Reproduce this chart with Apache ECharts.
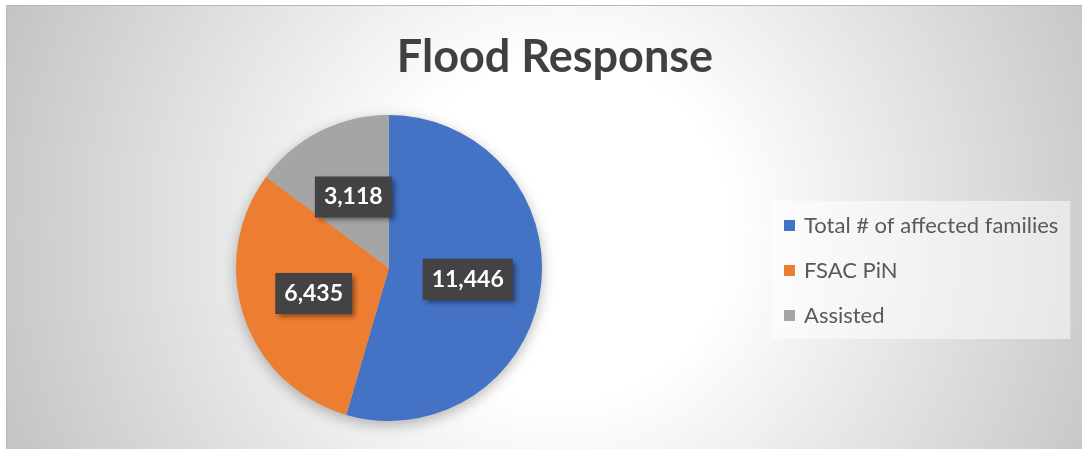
<!DOCTYPE html>
<html>
<head>
<meta charset="utf-8">
<script src="https://cdn.jsdelivr.net/npm/echarts@6/dist/echarts.min.js"></script>
<style>
  html, body { margin: 0; padding: 0; background: #ffffff; }
  #frame {
    position: absolute; left: 6px; top: 5px; width: 1076px; height: 444px;
    border-top: 1px solid #b9b9b9; border-left: 1px solid #b9b9b9;
    background: radial-gradient(circle 600px at 554px 225px, #ffffff 0px, #ffffff 170px, #c3c3c3 600px);
  }
  #main { position: absolute; left: 0; top: 0; width: 1082px; height: 449px; }
</style>
</head>
<body>
<div id="frame"></div>
<div id="main"></div>
<script>
const titleText = 'Flood Response';
const categories = ['Total # of affected families', 'FSAC PiN', 'Assisted'];
const values = [11446, 6435, 3118];
const colors = ['#4472c4', '#ed7d31', '#a5a5a5'];

const font = 'Lato, "Open Sans", sans-serif';
const pieCenter = [389, 268];
const pieRadius = 153;

const chart = echarts.init(document.getElementById('main'), null, { renderer: 'canvas' });

const option = {
  backgroundColor: 'transparent',
  animation: false,
  title: {
    text: titleText,
    left: 550,
    textAlign: 'center',
    top: 30,
    textStyle: { fontFamily: font, fontWeight: 'bold', fontSize: 45, color: '#404040' }
  },
  legend: {
    orient: 'vertical',
    left: 772,
    top: 201,
    padding: [12, 12, 11, 12],
    backgroundColor: 'rgba(255,255,255,0.5)',
    data: categories,
    icon: 'rect',
    itemWidth: 11,
    itemHeight: 11,
    itemGap: 20,
    textStyle: { fontFamily: font, fontSize: 22, color: '#595959', lineHeight: 25, padding: [0, 0, 0, 4] }
  },
  series: [
    {
      type: 'pie',
      silent: true,
      center: pieCenter,
      radius: pieRadius,
      label: { show: false },
      labelLine: { show: false },
      itemStyle: { color: '#bcbcbc', shadowBlur: 14, shadowColor: 'rgba(0,0,0,0.28)', shadowOffsetY: 4 },
      data: [{ value: 1, name: '' }]
    },
    {
      type: 'pie',
      center: pieCenter,
      radius: pieRadius,
      startAngle: 90,
      clockwise: true,
      color: colors,
      data: categories.map((c, i) => ({ name: c, value: values[i] })),
      label: {
        show: true,
        position: 'inside',
        formatter: p => p.value.toLocaleString('en-US'),
        fontFamily: font,
        fontWeight: 'bold',
        fontSize: 23,
        lineHeight: 24,
        color: '#ffffff',
        backgroundColor: '#434343',
        padding: [9, 9, 8, 9],
        shadowColor: 'rgba(0,0,0,0.45)',
        shadowBlur: 5,
        shadowOffsetX: 3,
        shadowOffsetY: 3
      },
      labelLine: { show: false },
      emphasis: { disabled: true }
    }
  ]
};
chart.setOption(option);
</script>
</body>
</html>
